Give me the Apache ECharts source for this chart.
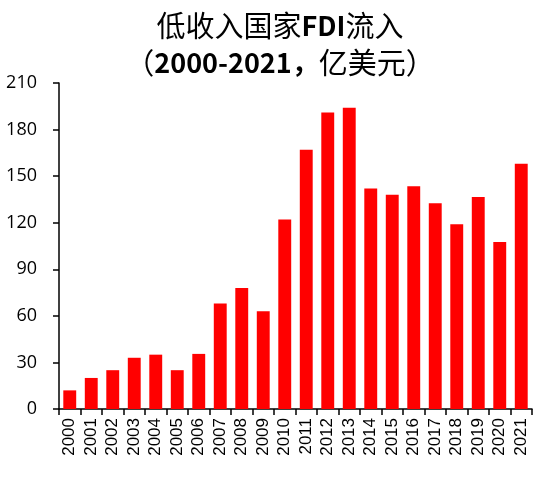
<!DOCTYPE html>
<html lang="zh">
<head>
	<meta charset="UTF-8">
	<title>低收入国家FDI流入</title>
	<script src="https://cdn.jsdelivr.net/npm/echarts@6/dist/echarts.min.js"></script>
	<style>
		html, body { margin: 0; padding: 0; background: #fff; }
	</style>
</head>
<body>
	<div id="main" style="width: 560px;height:477px;"></div>
<script type="text/javascript">
	// 年份与数值（亿美元）
	var years = ['2000','2001','2002','2003','2004','2005','2006','2007','2008','2009','2010',
		'2011','2012','2013','2014','2015','2016','2017','2018','2019','2020','2021'];
	var fdiValues = [12, 20, 25, 33, 35, 25, 35.5, 68, 78, 63, 122,
		167, 191, 194, 142, 138, 143.5, 132.5, 119, 136.5, 107.5, 158];
	var yTicks = [0, 30, 60, 90, 120, 150, 180, 210];

	var myChart = echarts.init(document.getElementById('main'));

	myChart.setOption({
		animation: false,
		title: {
			text: '{c|低收入国家}{b|FDI}{c|流入}\n{c|（}{b|2000-2021，}{c|亿美元）}',
			left: 'center',
			top: 2,
			textStyle: {
				rich: {
					c: { fontFamily: 'Noto Sans CJK SC', fontSize: 29, fontWeight: 'normal', color: '#000', lineHeight: 37 },
					b: { fontFamily: 'Noto Sans CJK SC', fontSize: 27, fontWeight: 'bold', color: '#000', lineHeight: 37 }
				}
			}
		},
		grid: {
			left: 59,
			right: 28,
			top: 83,
			bottom: 68
		},
		xAxis: {
			type: 'category',
			data: years,
			axisLine: { lineStyle: { color: '#000', width: 1.5 } },
			axisTick: { show: true, interval: 0, length: 6, lineStyle: { color: '#000', width: 1.5 } },
			axisLabel: {
				interval: 0,
				rotate: 90,
				color: '#000',
				fontFamily: 'Liberation Sans',
				fontSize: 17,
				margin: 9
			}
		},
		yAxis: {
			type: 'value',
			min: yTicks[0],
			max: yTicks[yTicks.length - 1],
			interval: 30,
			splitLine: { show: false },
			axisLine: { show: true, lineStyle: { color: '#000', width: 1.5 } },
			axisTick: { show: true, length: 6, lineStyle: { color: '#000', width: 1.5 } },
			axisLabel: {
				color: '#000',
				fontFamily: 'Open Sans',
				fontSize: 18,
				margin: 22
			}
		},
		series: [{
			type: 'bar',
			data: fdiValues,
			barWidth: '60%',
			itemStyle: { color: '#ff0000' }
		}]
	});
</script>
</body>
</html>
